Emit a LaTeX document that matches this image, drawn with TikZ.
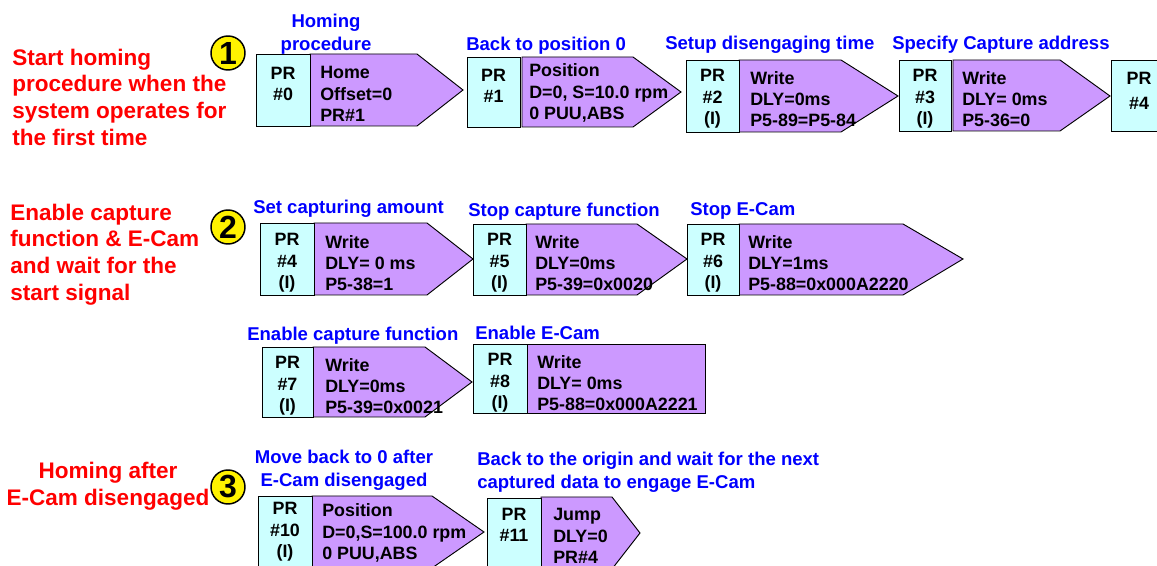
\documentclass[tikz,border=0pt]{standalone}
\usepackage{fontspec}
\setmainfont{Liberation Sans}

\definecolor{prcyan}{HTML}{CCFFFF}
\definecolor{prpurple}{HTML}{CC99FF}
\definecolor{notered}{HTML}{FF0000}
\definecolor{noteblue}{HTML}{0000FF}

\tikzset{
  prbox/.style={draw=black, fill=prcyan, line width=0.7pt},
  cmdbox/.style={draw=black, fill=prpurple, line width=0.7pt},
  prtext/.style={font=\fontsize{13.4}{16}\selectfont\bfseries, align=center, inner sep=0pt},
  cmdtext/.style={font=\fontsize{13.4}{16}\selectfont\bfseries, align=left, anchor=west, inner sep=0pt},
  steplabel/.style={font=\fontsize{13.9}{17}\selectfont\bfseries, text=noteblue, inner sep=0pt},
  goal/.style={font=\fontsize{16.9}{20}\selectfont\bfseries, text=notered, inner sep=0pt},
  phase/.style={circle, draw=black, line width=1.1pt, fill=yellow, minimum size=25.5pt,
    inner sep=0pt, font=\fontsize{24}{24}\selectfont\bfseries}
}

\begin{document}
\begin{tikzpicture}[x=0.75pt,y=-0.75pt]

\useasboundingbox (0,0) rectangle (1157,566);

% Phase 1
\node[phase] (ph1) at (228,53) {1};
\node[goal, align=left, anchor=west] (goal1) at (12,97)
{Start homing\\procedure when the\\system operates for\\the first time};

% PR#0
\node[steplabel, align=center] (lab0) at (326,34) {Homing\\procedure};
\draw[cmdbox] (310,54) -- (417,54) -- (463,90) -- (417,126) -- (310,126) -- cycle;
\draw[prbox] (256,54) rectangle (310,126);
\node[prtext] (pr0) at (283,84) {PR\\\#0};
\node[cmdtext] (cmd0) at (320,94) {Home\\Offset=0\\PR\#1};

% PR#1
\node[steplabel, anchor=west] (lab1) at (466,46) {Back to position 0};
\draw[cmdbox] (522,57) -- (633,57) -- (681,92) -- (633,127) -- (522,127) -- cycle;
\draw[prbox] (467,57) rectangle (520,127);
\node[prtext] (pr1) at (493.5,86) {PR\\\#1};
\node[cmdtext] (cmd1) at (529,93) {Position\\D=0, S=10.0 rpm\\0 PUU,ABS};

% PR#2
\node[steplabel, anchor=west] (lab2) at (665,45) {Setup disengaging time};
\draw[cmdbox] (739,60) -- (841,60) -- (898,96) -- (841,132) -- (739,132) -- cycle;
\draw[prbox] (686,60) rectangle (739,132);
\node[prtext] (pr2) at (712.5,99) {PR\\\#2\\(I)};
\node[cmdtext] (cmd2) at (750,99) {Write\\DLY=0ms\\P5-89=P5-84};

% PR#3
\node[steplabel, anchor=west] (lab3) at (892,45) {Specify Capture address};
\draw[cmdbox] (953,60) -- (1060,60) -- (1110,96) -- (1060,131) -- (953,131) -- cycle;
\draw[prbox] (899,60) rectangle (951,131);
\node[prtext] (pr3) at (925,99) {PR\\\#3\\(I)};
\node[cmdtext] (cmd3) at (962,99) {Write\\DLY= 0ms\\P5-36=0};

% PR#4 (cut at the edge)
\draw[prbox] (1111,60) rectangle (1170,131);
\node[prtext, font=\fontsize{13.4}{18.5}\selectfont\bfseries] (pr4a) at (1139,91) {PR\\\#4};

% Phase 2
\node[phase] (ph2) at (228,227) {2};
\node[goal, align=left, anchor=west] (goal2) at (10,254.5)
{Enable capture\\function \& E-Cam\\and wait for the\\start signal};

% PR#4
\node[steplabel, anchor=west] (lab4) at (253,209) {Set capturing amount};
\draw[cmdbox] (314,223) -- (427,223) -- (473,259) -- (427,295) -- (314,295) -- cycle;
\draw[prbox] (260,223) rectangle (314,295);
\node[prtext] (pr4) at (287,263) {PR\\\#4\\(I)};
\node[cmdtext] (cmd4) at (325,263) {Write\\DLY= 0 ms\\P5-38=1};

% PR#5
\node[steplabel, anchor=west] (lab5) at (468,212) {Stop capture function};
\draw[cmdbox] (526,224) -- (637,224) -- (687,259) -- (637,295) -- (526,295) -- cycle;
\draw[prbox] (473,224) rectangle (526,295);
\node[prtext] (pr5) at (499.5,263) {PR\\\#5\\(I)};
\node[cmdtext] (cmd5) at (535,263) {Write\\DLY=0ms\\P5-39=0x0020};

% PR#6
\node[steplabel, anchor=west] (lab6) at (690,211) {Stop E-Cam};
\draw[cmdbox] (739,224) -- (903,224) -- (963,259) -- (903,295) -- (739,295) -- cycle;
\draw[prbox] (687,224) rectangle (739,295);
\node[prtext] (pr6) at (713,263) {PR\\\#6\\(I)};
\node[cmdtext] (cmd6) at (748,263) {Write\\DLY=1ms\\P5-88=0x000A2220};

% PR#7
\node[steplabel, anchor=west] (lab7) at (247,336) {Enable capture function};
\draw[cmdbox] (313,347) -- (425,347) -- (472,382) -- (425,417) -- (313,417) -- cycle;
\draw[prbox] (262,347) rectangle (313,417);
\node[prtext] (pr7) at (287.5,386) {PR\\\#7\\(I)};
\node[cmdtext] (cmd7) at (325,386) {Write\\DLY=0ms\\P5-39=0x0021};

% PR#8
\node[steplabel, anchor=west] (lab8) at (475,333) {Enable E-Cam};
\draw[cmdbox] (527,344) rectangle (705,413);
\draw[prbox] (473,344) rectangle (527,413);
\node[prtext] (pr8) at (500,383) {PR\\\#8\\(I)};
\node[cmdtext] (cmd8) at (537,383) {Write\\DLY= 0ms\\P5-88=0x000A2221};

% Phase 3
\node[phase] (ph3) at (228,487) {3};
\node[goal, align=center] (goal3) at (108,486.5) {Homing after\\E-Cam disengaged};

% PR#10
\node[steplabel, align=center] (lab10) at (344,470) {Move back to 0 after\\E-Cam disengaged};
\draw[cmdbox] (312,496) -- (432,496) -- (484,532) -- (432,568) -- (312,568) -- cycle;
\draw[prbox] (258,496) rectangle (312,580);
\node[prtext] (pr10) at (285,532) {PR\\\#10\\(I)};
\node[cmdtext] (cmd10) at (322,533) {Position\\D=0,S=100.0 rpm\\0 PUU,ABS};

% PR#11
\node[steplabel, align=left, anchor=west] (lab11) at (477,472)
{Back to the origin and wait for the next\\captured data to engage E-Cam};
\draw[cmdbox] (541,497) -- (612,497) -- (640,533) -- (612,569) -- (541,569) -- cycle;
\draw[prbox] (487,498) rectangle (541,580);
\node[prtext] (pr11) at (514,525) {PR\\\#11};
\node[cmdtext] (cmd11) at (553,536) {Jump\\DLY=0\\PR\#4};

\end{tikzpicture}
\end{document}
